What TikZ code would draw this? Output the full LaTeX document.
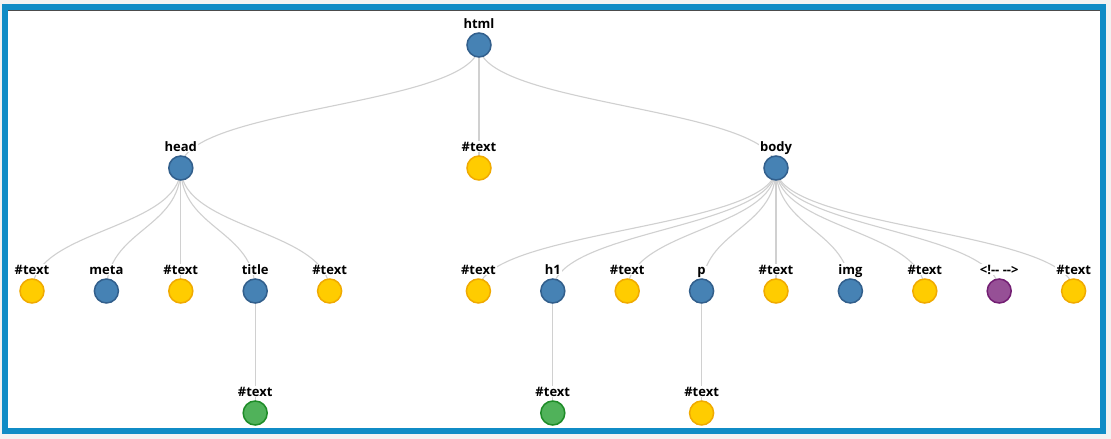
\documentclass[tikz,border=0pt]{standalone}
\usetikzlibrary{calc}
\usepackage{fontspec}
\setmainfont{Open Sans}
\definecolor{frameblue}{RGB}{16,140,198}
\definecolor{outgray}{RGB}{242,242,242}
\definecolor{nblue}{RGB}{70,130,180}
\definecolor{nblueD}{RGB}{50,95,140}
\definecolor{nyel}{RGB}{255,204,0}
\definecolor{nyelD}{RGB}{240,170,0}
\definecolor{ngrn}{RGB}{80,178,90}
\definecolor{ngrnD}{RGB}{30,140,40}
\definecolor{npur}{RGB}{150,80,150}
\definecolor{npurD}{RGB}{115,30,115}
\definecolor{linkgray}{RGB}{208,208,208}
\tikzset{
  dot/.style={circle, minimum size=24pt, inner sep=0pt, line width=1.5pt},
  elem/.style={dot, fill=nblue, draw=nblueD},
  txt/.style={dot, fill=nyel, draw=nyelD},
  txtg/.style={dot, fill=ngrn, draw=ngrnD},
  cmt/.style={dot, fill=npur, draw=npurD},
  lbl/.style={font=\bfseries\fontsize{13}{15}\selectfont, fill=white, inner sep=1pt, anchor=base, text=black},
  lnk/.style={draw=linkgray, line width=1.1pt},
}
\begin{document}
\begin{tikzpicture}[x=1pt,y=-1pt]
\useasboundingbox (0,0) rectangle (1111,439);
\fill[outgray] (0,0) rectangle (1111,439);
\fill[white] (5,7) rectangle (1103,431);
% node positions
\coordinate (html) at (479,45);
\coordinate (head) at (180.8,168);
\coordinate (t1) at (479,168);
\coordinate (body) at (776,168);
\coordinate (a0) at (32,291);
\coordinate (a1) at (106.4,291);
\coordinate (a2) at (180.8,291);
\coordinate (a3) at (255.2,291);
\coordinate (a4) at (329.6,291);
\coordinate (b0) at (478.4,291);
\coordinate (b1) at (552.8,291);
\coordinate (b2) at (627.2,291);
\coordinate (b3) at (701.6,291);
\coordinate (b4) at (776,291);
\coordinate (b5) at (850.4,291);
\coordinate (b6) at (924.8,291);
\coordinate (b7) at (999.2,291);
\coordinate (b8) at (1073.6,291);
\coordinate (c0) at (255.2,413);
\coordinate (c1) at (552.8,413);
\coordinate (c2) at (701.6,413);
% links (d3 diagonal)
\foreach \p/\c in {html/head,html/t1,html/body,
  head/a0,head/a1,head/a2,head/a3,head/a4,
  body/b0,body/b1,body/b2,body/b3,body/b4,body/b5,body/b6,body/b7,body/b8,
  a3/c0,b1/c1,b3/c2}{
  \draw[lnk] (\p) .. controls ($(\p)!0.5!(\p|-\c)$) and ($(\c|-\p)!0.5!(\c)$) .. (\c);
}
% labels and circles
\foreach \n/\t/\s in {html/html/elem, head/head/elem, t1/\#text/txt, body/body/elem,
  a0/\#text/txt, a1/meta/elem, a2/\#text/txt, a3/title/elem, a4/\#text/txt,
  b0/\#text/txt, b1/h1/elem, b2/\#text/txt, b3/p/elem, b4/\#text/txt,
  b5/img/elem, b6/\#text/txt, b7/{<!{-}{-} {-}{-}>}/cmt, b8/\#text/txt,
  c0/\#text/txtg, c1/\#text/txtg, c2/\#text/txt}{
  \node[lbl] (L\n) at ([yshift=17pt]\n) {\t};
  \node[\s] (N\n) at (\n) {};
}
\draw[black!70, line width=0.8pt] (8,10) -- (1100,10);
\draw[frameblue, line width=6pt] (5,7) rectangle (1103,431);
\end{tikzpicture}
\end{document}
